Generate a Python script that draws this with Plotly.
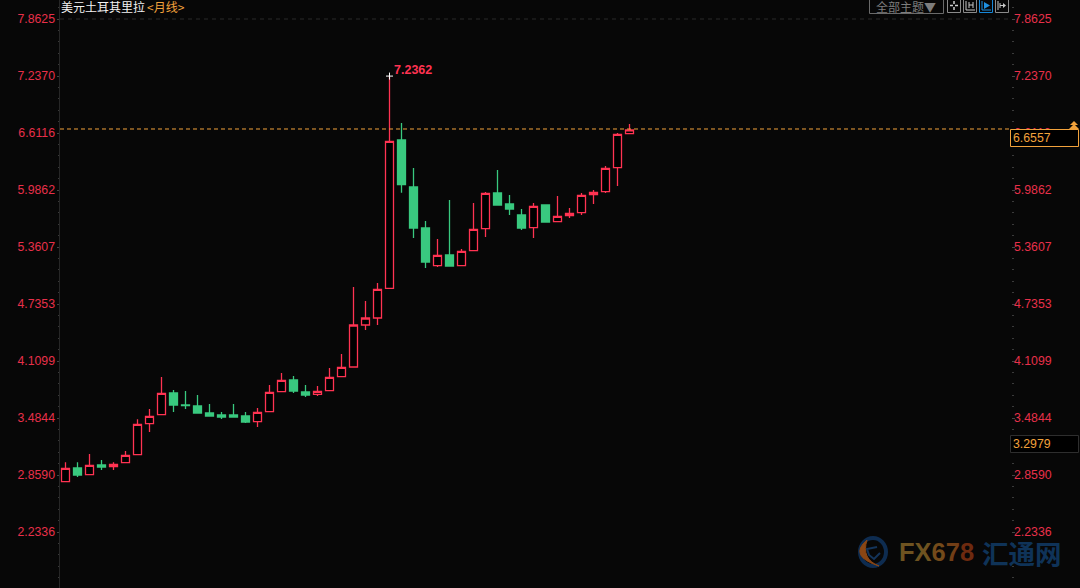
import plotly.graph_objects as go

# ---------- data ----------
opens = [2.7858,2.9361,2.8626,2.9690,2.9504,2.9942,3.0820,3.4222,3.5209,3.7590,3.6273,3.6164,3.5396,3.5176,3.5176,3.5066,
         3.4441,3.5538,3.7733,3.9016,3.7700,3.7448,3.7842,3.9379,4.0443,4.5051,4.5819,4.9078,6.5349,6.0192,5.5694,5.1557,
         5.2731,5.1557,5.3203,5.5617,5.9534,5.8327,5.7120,5.5727,5.8217,5.6385,5.7043,5.7373,5.9348,5.9677,6.2310,6.6041]
highs = [2.9986,2.9986,3.0897,3.0239,2.9986,3.1226,3.4704,3.5835,3.9346,3.7919,3.7809,3.7371,3.6383,3.5505,3.6383,3.5505,
         3.5944,3.8468,3.9784,3.9455,3.8468,3.8358,4.0333,4.1869,4.9220,4.7684,4.9659,7.2362,6.7214,6.2277,5.6462,5.4487,
         5.8766,5.3390,5.8437,5.9644,6.2058,5.9315,5.7779,5.8437,5.8217,5.9205,5.7888,5.9534,5.9863,6.2496,6.6117,6.7105]
lows = [2.7858,2.8374,2.8626,2.9142,2.9142,2.9942,3.0820,3.3311,3.5209,3.5505,3.5835,3.5396,3.5066,3.4737,3.4957,3.4298,
        3.3860,3.5538,3.7733,3.7590,3.7151,3.7261,3.7842,3.9379,4.0443,4.4502,4.5051,4.9078,5.9567,5.4597,5.1305,5.1415,
        5.1524,5.1557,5.3203,5.4706,5.8217,5.7120,5.5474,5.4597,5.6352,5.6385,5.6791,5.7120,5.8327,5.9534,6.0302,6.6041]
closes = [2.9328,2.8593,2.9657,2.9471,2.9767,3.0754,3.4156,3.5033,3.7557,3.6273,3.6197,3.5396,3.5066,3.4957,3.4957,3.4408,
          3.5472,3.7667,3.8983,3.7809,3.7371,3.7776,3.9313,4.0410,4.5051,4.5819,4.8968,6.5207,6.0445,5.5694,5.1963,5.2698,
          5.1524,5.3137,5.5551,5.9501,5.8217,5.7779,5.5694,5.8075,5.6352,5.6978,5.7307,5.9282,5.9611,6.2244,6.5975,6.6450]
tick_values = [7.8625,7.2370,6.6116,5.9862,5.3607,4.7353,4.1099,3.4844,2.8590,2.2336]
tick_labels = ["7.8625","7.2370","6.6116","5.9862","5.3607","4.7353","4.1099","3.4844","2.8590","2.2336"]
peak_value = 7.2362
peak_index = 27
last_price = 6.6557
last_price_label = "6.6557"
other_price_label = "3.2979"
title_name = "美元土耳其里拉"
title_period = "&lt;月线&gt;"
theme_label = "全部主题▼"
logo_mid = "FX678"
logo_cn = "汇通网"

# ---------- style ----------
W, H = 1080, 588
BG = "#070707"
RED = "#ff3352"
GREEN = "#39c97f"
ORANGE = "#f2a23c"
AXIS = "#262626"
TICK_FONT = dict(family="Liberation Sans, Arial", size=12.3, color="#e8304a")

def px(x): return x / W
def py(y): return 1 - y / H

fig = go.Figure()
xs = list(range(len(opens)))
fig.add_trace(go.Candlestick(
    x=xs, open=opens, high=highs, low=lows, close=closes,
    increasing=dict(line=dict(color=RED, width=1.3), fillcolor="#000000"),
    decreasing=dict(line=dict(color=GREEN, width=1.3), fillcolor=GREEN),
    whiskerwidth=0, showlegend=False, hoverinfo="skip", xaxis="x", yaxis="y",
))
fig.add_trace(go.Scatter(
    x=[peak_index], y=[peak_value], mode="markers", showlegend=False, hoverinfo="skip",
    marker=dict(symbol="cross-thin", size=5, line=dict(color="#ffffff", width=1)),
    xaxis="x", yaxis="y",
))
# an invisible trace keeps the right axis alive
fig.add_trace(go.Scatter(x=[0], y=[last_price], mode="markers", marker=dict(opacity=0),
                         showlegend=False, hoverinfo="skip", xaxis="x", yaxis="y2"))

yr = [8.0710 - 0.010972 * 588, 8.0710]
common = dict(
    range=yr, tickmode="array", tickvals=tick_values, ticktext=tick_labels, tickfont=TICK_FONT,
    ticks="outside", ticklen=3, tickcolor="#444444", tickwidth=1, showgrid=False, zeroline=False,
    minor=dict(ticks="outside", ticklen=2, tickcolor="#3a3a3a", tickwidth=1,
               tick0=tick_values[0], dtick=(tick_values[0] - tick_values[1]) / 5, showgrid=False),
)
shapes = []
def rect(x0, y0, x1, y1, line=None, fill=None, lw=1):
    shapes.append(dict(type="rect", xref="paper", yref="paper", x0=px(x0), x1=px(x1), y0=py(y0), y1=py(y1),
                       line=dict(color=line or "rgba(0,0,0,0)", width=lw if line else 0),
                       fillcolor=fill or "rgba(0,0,0,0)", layer="above"))
def seg(x0, y0, x1, y1, color, lw=1, dash="solid"):
    shapes.append(dict(type="line", xref="paper", yref="paper", x0=px(x0), x1=px(x1), y0=py(y0), y1=py(y1),
                       line=dict(color=color, width=lw, dash=dash), layer="above"))
def poly(points, fill, line=None):
    p = "M" + " L".join(f"{px(a):.5f},{py(b):.5f}" for a, b in points) + " Z"
    shapes.append(dict(type="path", xref="paper", yref="paper", path=p, fillcolor=fill,
                       line=dict(color=line or fill, width=0), layer="above"))

# axis lines / guide lines
seg(59.5, 0, 59.5, 588, AXIS)
shapes.append(dict(type="line", xref="paper", yref="y", x0=px(60), x1=px(1010), y0=tick_values[0], y1=tick_values[0],
                   line=dict(color="#2b2b2b", width=1, dash="4px,4px"), layer="below"))
shapes.append(dict(type="line", xref="paper", yref="y", x0=px(60), x1=px(1010), y0=last_price, y1=last_price,
                   line=dict(color=ORANGE, width=1, dash="4px,3px"), layer="above"))
# price tags
rect(1010.5, 129.5, 1078.5, 146.5, ORANGE, "#000000")
rect(1010.5, 435.5, 1078.5, 452.5, "#2e2e2e", "#000000")
poly([(1074, 121), (1078, 125), (1070, 125)], ORANGE)
poly([(1074, 124), (1079, 129), (1069, 129)], ORANGE)
# toolbar
rect(869.5, -1, 943.5, 13.5, "#6a6a6a")
for x0, c in [(947.5, "#8a8a8a"), (963.5, "#8a8a8a"), (979.5, "#1787d8"), (995.5, "#8a8a8a")]:
    rect(x0, -1, x0 + 13, 12.5, c)
for a, b, c, d in [(950, 5.5, 953, 5.5), (955, 5.5, 958, 5.5), (954, 1, 954, 4), (954, 7, 954, 10)]:
    seg(a, b, c, d, "#cfcfcf", 1.5)
seg(966, 1, 966, 10, "#c8c8c8"); seg(966, 10, 975, 10, "#c8c8c8")
seg(969, 2, 969, 8, "#c8c8c8"); seg(973, 2, 973, 8, "#c8c8c8"); seg(969, 5, 973, 5, "#c8c8c8")
seg(982, 1, 982, 10, "#1e90e0"); seg(982, 10, 991, 10, "#1e90e0")
poly([(984, 2), (990, 5.5), (984, 9)], "#1e90e0")
seg(998, 1, 998, 10, "#c8c8c8"); seg(1000, 3, 1000, 8, "#c8c8c8")
poly([(1003, 3), (1006, 5.5), (1003, 8)], "#c8c8c8"); seg(1000, 5.5, 1004, 5.5, "#c8c8c8")
# logo swirl
shapes.append(dict(type="circle", xref="paper", yref="paper", x0=px(860), x1=px(886), y0=py(566), y1=py(538),
                   line=dict(color="#0e2c50", width=4), fillcolor="rgba(0,0,0,0)", layer="below"))
shapes.append(dict(type="path", xref="paper", yref="paper",
                   path=f"M{px(867):.5f},{py(540):.5f} Q{px(848):.5f},{py(556):.5f} {px(879):.5f},{py(566):.5f} "
                        f"Q{px(861):.5f},{py(559):.5f} {px(867):.5f},{py(540):.5f} Z",
                   line=dict(color="#8a4614", width=1), fillcolor="#8a4614", layer="below"))
shapes.append(dict(type="path", xref="paper", yref="paper",
                   path=f"M{px(877):.5f},{py(547):.5f} L{px(867):.5f},{py(549):.5f} L{px(869):.5f},{py(555):.5f} L{px(874):.5f},{py(559):.5f} L{px(880):.5f},{py(553):.5f}",
                   line=dict(color="#14345a", width=2), layer="below"))

def label(x, y, text, color, size=12, anchor="left", family="Noto Sans CJK SC, Liberation Sans", yanchor="middle"):
    return dict(xref="paper", yref="paper", x=px(x), y=py(y), text=text, showarrow=False, xanchor=anchor, yanchor=yanchor,
                xshift=0, font=dict(color=color, size=size, family=family), align="left", borderpad=0, borderwidth=0)

annotations = [
    label(61, 6.5, title_name, "#f2f2f2", 12),
    label(147, 6.5, title_period, ORANGE, 12),
    label(876, 6.5, theme_label, "#7d7d7d", 12),
    label(394, 70, f"<b>{peak_value:.4f}</b>", RED, 12.5, family="Liberation Sans"),
    label(1013, 138, last_price_label, ORANGE, 12.3, family="Liberation Sans"),
    label(1013, 444, other_price_label, ORANGE, 12.3, family="Liberation Sans"),
    label(899, 552, f'<b><span style="color:#6e5320">{logo_mid[:2]}</span><span style="color:#734a1a">{logo_mid[2]}</span>'
                    f'<span style="color:#723e16">{logo_mid[3]}</span><span style="color:#6e2a0f">{logo_mid[4]}</span></b>',
          "#6e5320", 25.5, family="Liberation Sans"),
    label(982, 552, f"<b>{logo_cn}</b>", "#0f3358", 26.5),
]

fig.update_layout(
    width=W, height=H, autosize=False, margin=dict(l=0, r=0, t=0, b=0),
    paper_bgcolor=BG, plot_bgcolor=BG, showlegend=False, boxgap=1/3, boxgroupgap=0,
    xaxis=dict(domain=[0, 1], range=[-65.5 / 12, (W - 65.5) / 12], visible=False, rangeslider=dict(visible=False), fixedrange=True),
    yaxis=dict(common, anchor="free", position=59.5 / W, side="left", fixedrange=True, ticklabelstandoff=-1),
    yaxis2=dict(common, anchor="free", position=1010.5 / W, side="right", overlaying="y", fixedrange=True, ticklabelstandoff=-3),
    shapes=shapes, annotations=annotations,
)
fig.write_html("out.html", config=dict(displayModeBar=False),
               post_script="document.body.style.margin='0';document.body.style.background='#070707';")
